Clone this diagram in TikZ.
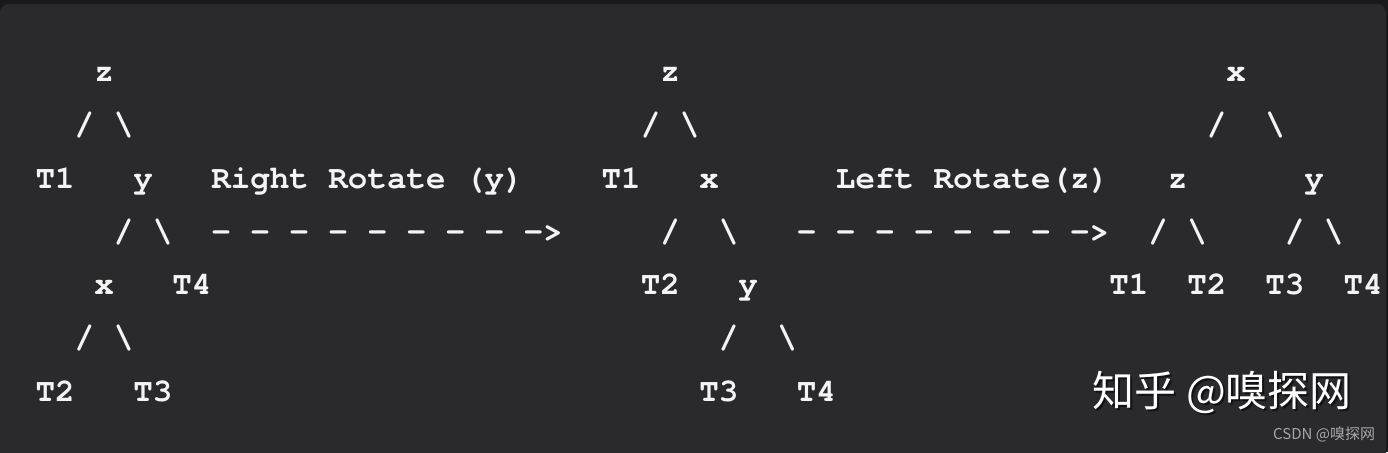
\documentclass[tikz,border=0pt]{standalone}
\usepackage{fontspec}
\newfontfamily\codefont{TeX Gyre Cursor}
\newfontfamily\cjk{Noto Sans CJK SC}
\newlength\cwid
\setlength\cwid{19.52pt}
\newcommand\gap[1]{\hspace*{#1\cwid}}
\newcommand\bs{\textbackslash}
\definecolor{panelc}{HTML}{2A2A2D}
\definecolor{topc}{HTML}{19191B}
\definecolor{txtc}{HTML}{F4F4F4}
\tikzset{
  codeline/.style={anchor=base west, inner sep=0pt, text=txtc,
    font=\codefont\bfseries\fontsize{32.53pt}{40pt}\selectfont},
  wmark/.style={anchor=base west, inner sep=0pt,
    font=\cjk\fontsize{42pt}{48pt}\selectfont},
  csdn/.style={anchor=base west, inner sep=0pt, text=black!35!white,
    font=\cjk\fontsize{15pt}{18pt}\selectfont}
}
\begin{document}
\begin{tikzpicture}[x=1pt,y=1pt]
\useasboundingbox (0,0) rectangle (1388,-452);
\fill[topc] (0,0) rectangle (1388,-452);
\fill[panelc, rounded corners=9pt] (0,-4) rectangle (1386,-480);
\node[codeline] (r1) at (35.5,-81.5) {\gap{3}z\gap{28}z\gap{28}x};
\node[codeline] (r2) at (35.5,-134.75) {\gap{2}/\gap{1}\bs\gap{26}/\gap{1}\bs\gap{26}/\gap{2}\bs};
\node[codeline] (r3) at (35.5,-188) {T1\gap{3}y\gap{3}Right\gap{1}Rotate\gap{1}(y)\gap{4}T1\gap{3}x\gap{6}Left\gap{1}Rotate(z)\gap{3}z\gap{6}y};
\node[codeline] (r4) at (35.5,-241.25) {\gap{4}/\gap{1}\bs\gap{2}-\gap{1}-\gap{1}-\gap{1}-\gap{1}-\gap{1}-\gap{1}-\gap{1}-\gap{1}->\gap{5}/\gap{2}\bs\gap{3}-\gap{1}-\gap{1}-\gap{1}-\gap{1}-\gap{1}-\gap{1}-\gap{1}->\gap{2}/\gap{1}\bs\gap{4}/\gap{1}\bs};
\node[codeline] (r5) at (35.5,-294.5) {\gap{3}x\gap{3}T4\gap{22}T2\gap{3}y\gap{18}T1\gap{2}T2\gap{2}T3\gap{2}T4};
\node[codeline] (r6) at (35.5,-347.75) {\gap{2}/\gap{1}\bs\gap{30}/\gap{2}\bs};
\node[codeline] (r7) at (35.5,-401) {T2\gap{3}T3\gap{27}T3\gap{3}T4};
\node[wmark, text=black, opacity=0.55] (wms) at (1094.5,-408.5) {知乎 @嗅探网};
\node[wmark, text=white] (wm) at (1092.5,-406.5) {知乎 @嗅探网};
\node[csdn] (cs) at (1273,-439.5) {CSDN @嗅探网};
\end{tikzpicture}
\end{document}
